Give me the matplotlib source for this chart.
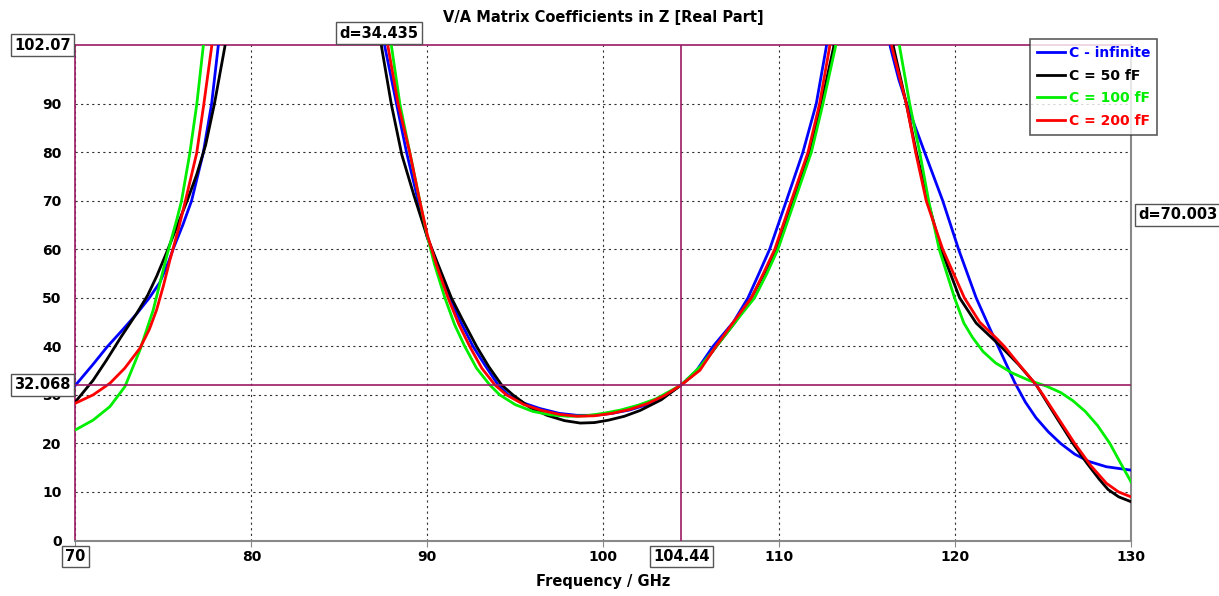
import numpy as np
import matplotlib
matplotlib.use("Agg")
import matplotlib.pyplot as plt

nan = np.nan

# C - infinite
blue_f = [70, 71, 71.8, 72.7, 73.5, 74.2, 74.8, 75.3, 75.6, 76.1, 76.6, 77.26, 77.74, 78.11, 78.25, nan,
          87.45, 87.59, 88.25, 88.82, 89.48, 90.0, 90.5, 91.28, 91.9, 92.6, 93.3, 94.02, 94.6, 95.5, 96.4, 97.5,
          98.5, 99.5, 100.5, 101.5, 102.5, 103.5, 104.44, 105.3, 106.24, 107.4, 108.23, 108.85, 109.46, 110.41,
          111.35, 112.11, 112.68, 112.82, nan,
          116.2, 116.32, 116.8, 117.25, 118.27, 119.3, 120.2, 121.2, 122.0, 122.7, 123.4, 124.0, 124.6, 125.3,
          126.0, 126.8, 127.6, 128.6, 130]
blue_v = [32.0, 36.3, 39.9, 43.5, 46.8, 50.0, 53.2, 57.5, 60.5, 65.0, 70.0, 79.8, 90.0, 101.7, 106, nan,
          106, 101.7, 90, 80, 70, 62.5, 57.5, 50, 45, 40, 36, 32.1, 30, 28.3, 27.2, 26.2,
          25.8, 25.8, 26.2, 26.9, 28.0, 29.8, 32.07, 35.0, 40, 45, 50, 55, 60, 70,
          80, 90, 101.7, 106, nan,
          106, 101.7, 95, 90, 80, 70, 60, 50, 43.5, 38, 32.5, 28.5, 25.3, 22.4,
          20.0, 17.8, 16.3, 15.2, 14.5]

# C = 50 fF
black_f = [70, 71, 71.77, 72.6, 73.48, 74.1, 74.61, 75.2, 75.8, 76.4, 76.9, 77.4, 77.9, 78.49, 78.6, nan,
           87.3, 87.40, 87.95, 88.55, 89.25, 90.0, 90.6, 91.37, 92.0, 92.8, 93.5, 94.22, 94.87, 95.8, 96.8,
           97.8, 98.7, 99.5, 100.3, 101.2, 102.1, 103.3, 104.44, 105.4, 106.43, 107.5, 108.42, 109.15, 109.84,
           110.78, 111.73, 112.4, 113.1, 113.25, nan,
           116.35, 116.5, 117.23, 117.8, 118.45, 119.21, 120.26, 121.2, 122.6, 123.6, 124.61, 125.6, 126.7,
           127.5, 128.2, 128.7, 129.3, 130]
black_v = [28.6, 33.0, 37.2, 42.0, 46.8, 50.5, 54.4, 59.5, 65.0, 70.5, 75.5, 81.5, 90, 101.7, 106, nan,
           106, 101.7, 90, 79.5, 71, 62.5, 57, 50, 45.5, 40, 35.8, 32.07, 30, 27.5, 25.8,
           24.7, 24.2, 24.3, 24.8, 25.6, 26.8, 29.0, 32.07, 35.0, 40, 45, 50, 55, 60,
           70, 80, 90, 101.7, 106, nan,
           106, 101.7, 90, 80, 70, 60, 50, 44.8, 40, 36.3, 32.07, 26.3, 20,
           15.9, 12.6, 10.5, 9.0, 8.0]

# C = 100 fF
green_f = [70, 71, 71.96, 72.81, 73.66, 74.42, 75.18, 75.75, 76.03, 76.5, 76.9, 77.26, 77.4, nan,
           87.85, 87.97, 88.44, 89.0, 89.57, 89.95, 90.4, 91.0, 91.55, 92.13, 92.8, 93.55, 94.12, 95.0, 96.0,
           97.0, 98.0, 99.0, 100.0, 101.0, 102.0, 103.0, 104.44, 105.5, 106.43, 107.5, 108.6, 109.3, 109.93,
           110.88, 111.83, 112.49, 113.2, 113.35, nan,
           116.7, 116.85, 117.42, 117.99, 118.5, 119.1, 119.97, 120.5, 121.0, 121.6, 122.3, 123.2, 124.2,
           125.2, 126.0, 126.7, 127.4, 128.1, 128.8, 129.4, 130]
green_v = [22.8, 24.8, 27.6, 31.7, 39.2, 47.5, 58.5, 66.0, 70.0, 79.8, 90, 101.7, 106, nan,
           106, 101.7, 90, 80, 70, 63.5, 57, 50, 44.5, 40, 35.5, 32.07, 30, 28.0, 26.6,
           25.9, 25.6, 25.7, 26.2, 26.9, 27.9, 29.2, 32.07, 35.8, 40, 45, 50, 55, 60,
           70, 80, 90, 101.7, 106, nan,
           106, 101.7, 90, 80, 70, 60, 50, 44.8, 41.8, 38.9, 36.6, 34.6, 33.0,
           31.8, 30.5, 28.8, 26.6, 23.7, 20.0, 16.0, 12.1]

# C = 200 fF
red_f = [70, 71, 71.96, 72.8, 73.66, 74.2, 74.61, 75.0, 75.37, 75.84, 76.25, 76.89, 77.3, 77.74, 77.85, nan,
         87.65, 87.77, 88.34, 89.0, 89.57, 90.0, 90.5, 91.18, 91.8, 92.41, 93.1, 93.84, 94.5, 95.5, 96.5,
         97.5, 98.5, 99.5, 100.5, 101.5, 102.5, 103.5, 104.44, 105.5, 106.4, 107.4, 108.42, 109.1, 109.75,
         110.69, 111.64, 112.3, 112.87, 113.0, nan,
         116.25, 116.41, 117.23, 117.76, 118.36, 119.3, 120.53, 121.4, 122.4, 122.8, 123.7, 124.61, 125.0,
         125.9, 126.8, 127.7, 128.6, 129.3, 130]
red_v = [28.3, 30.0, 32.4, 35.5, 39.6, 43.5, 47.5, 52.5, 57.8, 64, 70, 79.8, 90, 101.7, 106, nan,
         106, 101.7, 90, 80, 70, 63, 57, 50, 44.5, 40, 35.5, 32.07, 30, 28.0, 26.8,
         26.0, 25.6, 25.7, 26.2, 27.0, 28.2, 29.9, 32.07, 35.1, 40, 45, 50, 55, 60,
         70, 80, 90, 101.7, 106, nan,
         106, 101.7, 90, 80, 70, 60, 50, 45, 41.5, 40, 36, 32.07, 30,
         25, 20, 15.5, 11.8, 10.0, 9.0]

labels = ["C - infinite", "C = 50 fF", "C = 100 fF", "C = 200 fF"]
colors = ["#0000ff", "#000000", "#00ee00", "#ff0000"]

x_ticks = [70, 80, 90, 100, 110, 120, 130]
y_ticks = [0, 10, 20, 30, 40, 50, 60, 70, 80, 90]
y_max = 102.07
marker_x = 104.44
marker_y = 32.068
mark = "#9b1a63"

plt.rcParams['font.family'] = ['DejaVu Sans']
plt.rcParams['font.weight'] = 'bold'

fig = plt.figure(figsize=(12.19, 5.96), dpi=100)
ax = fig.add_axes([0.0619, 0.0931, 0.8659, 0.8311])

series = [(blue_f, blue_v), (black_f, black_v), (green_f, green_v), (red_f, red_v)]
for (f, v), lab, c in zip(series, labels, colors):
    ax.plot(f, v, color=c, lw=2.0, label=lab, zorder=3)

ax.set_xlim(70, 130)
ax.set_ylim(0, y_max)
ax.set_xticks(x_ticks)
ax.set_xticklabels([""] + [str(t) for t in x_ticks[1:]], fontsize=10, fontweight='bold')
ax.set_yticks(y_ticks)
ax.set_yticklabels([str(t) for t in y_ticks], fontsize=10, fontweight='bold')
ax.tick_params(axis='x', length=4, color='#888888', pad=3)
ax.tick_params(axis='y', length=0, pad=10)
ax.grid(True, color='#333333', linestyle=(0, (2, 3)), lw=0.8)

for s in ['right', 'bottom']:
    ax.spines[s].set_color('#888888')
    ax.spines[s].set_linewidth(1.5)
for s in ['left', 'top']:
    ax.spines[s].set_color(mark)
    ax.spines[s].set_linewidth(1.2)

# marker lines
ax.axhline(marker_y, color=mark, lw=1.2, zorder=4)
ax.axvline(marker_x, color=mark, lw=1.2, zorder=4)

box = dict(boxstyle='square,pad=0.22', fc='white', ec='#555555', lw=1)
tkw = dict(fontsize=10.5, fontweight='bold', bbox=box, annotation_clip=False, zorder=6)
ax.annotate("102.07", xy=(0, y_max), xycoords=('axes fraction', 'data'), xytext=(-33, 0),
            textcoords='offset pixels', ha='center', va='center', **tkw)
ax.annotate("32.068", xy=(0, marker_y), xycoords=('axes fraction', 'data'), xytext=(-33, 0),
            textcoords='offset pixels', ha='center', va='center', **tkw)
ax.annotate("d=34.435", xy=(87.25, y_max), xycoords='data', xytext=(0, 12),
            textcoords='offset pixels', ha='center', va='center', **tkw)
ax.annotate("d=70.003", xy=(1, 67.1), xycoords=('axes fraction', 'data'), xytext=(7, 0),
            textcoords='offset pixels', ha='left', va='center', **tkw)
ax.annotate("70", xy=(70, 0), xycoords='data', xytext=(0, -16),
            textcoords='offset pixels', ha='center', va='center', **tkw)
ax.annotate(str(marker_x), xy=(marker_x, 0), xycoords='data', xytext=(0, -16),
            textcoords='offset pixels', ha='center', va='center', **tkw)

ax.set_title("V/A Matrix Coefficients in Z [Real Part]", fontsize=10.5, fontweight='bold', pad=17)
ax.set_xlabel("Frequency / GHz", fontsize=10.5, fontweight='bold', labelpad=7)

leg = ax.legend(loc='upper left', bbox_to_anchor=(1030 / 1219, 1 - 39 / 596), bbox_transform=fig.transFigure,
                frameon=True, fancybox=False, edgecolor='#333333', fontsize=10, handlelength=2.0,
                handletextpad=0.3, labelspacing=0.62, borderpad=0.5, borderaxespad=0)
leg.get_frame().set_linewidth(1.2)
for t, c in zip(leg.get_texts(), colors):
    t.set_color(c)
    t.set_fontweight('bold')
leg.set_zorder(7)

fig.savefig("out.png", dpi=100)
